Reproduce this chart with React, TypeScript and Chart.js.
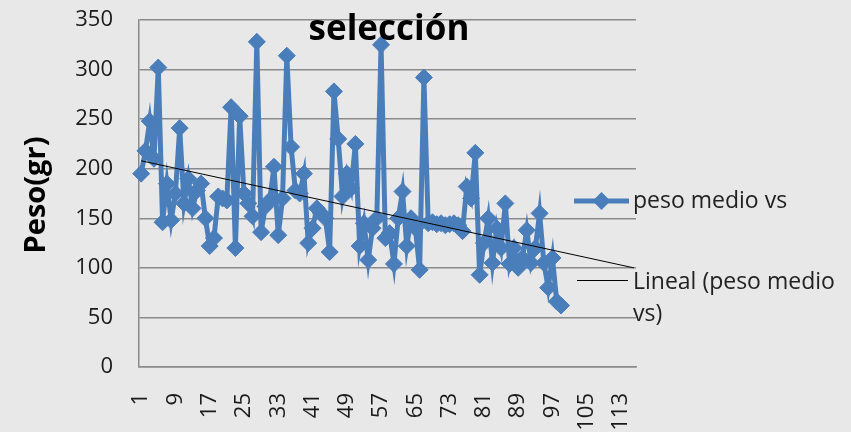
import React, { useEffect, useRef } from 'react';
import { Chart, registerables } from 'chart.js';

Chart.register(...registerables);

// ---- data ----
const categoryCount = 116;
const categories: string[] = Array.from({ length: categoryCount }, (_, i) => String(i + 1));
const tickLabels = ['1', '9', '17', '25', '33', '41', '49', '57', '65', '73', '81', '89', '97', '105', '113'];
const yTicks = [0, 50, 100, 150, 200, 250, 300, 350];

const pesoMedio = [
  195, 218, 248, 210, 302, 146, 185, 148, 175, 241,
  165, 190, 160, 178, 185, 150, 122, 130, 172, 170,
  168, 262, 120, 253, 175, 165, 152, 328, 136, 162,
  168, 202, 133, 170, 314, 222, 178, 175, 195, 125,
  140, 160, 155, 150, 116, 278, 230, 172, 195, 180,
  225, 122, 145, 108, 140, 150, 325, 130, 135, 104,
  150, 177, 122, 150, 140, 98, 292, 145, 146, 144,
  145, 143, 144, 145, 143, 137, 182, 170, 216, 93,
  125, 150, 105, 140, 120, 165, 104, 120, 100, 110,
  138, 105, 120, 155, 105, 80, 110, 66, 62,
];

const trendStart = 208;
const trendEnd = 100;

const titleText = 'selección';
const yTitleText = 'Peso(gr)';
const seriesName = 'peso medio vs';
const trendNameLines = ['Lineal (peso medio', 'vs)'];

const BLUE = '#4a7ebb';
const GRID = '#8a8a8a';
const BG = '#e8e8e8';
const FONT = '"Open Sans", "Liberation Sans", sans-serif';

export default function App() {
  const ref = useRef<HTMLCanvasElement | null>(null);

  useEffect(() => {
    document.body.style.margin = '0';
    let chart: Chart | null = null;
    let cancelled = false;

    const trendData: (number | null)[] = categories.map(() => null);
    trendData[0] = trendStart;
    trendData[categoryCount - 1] = trendEnd;

    const decor = {
      id: 'decor',
      beforeDraw(c: any) {
        const ctx = c.ctx;
        ctx.save();
        ctx.fillStyle = BG;
        ctx.fillRect(0, 0, c.width, c.height);
        ctx.restore();
      },
      afterDraw(c: any) {
        const ctx = c.ctx;
        ctx.save();
        // title
        ctx.fillStyle = '#000';
        ctx.font = `bold 35px ${FONT}`;
        ctx.textAlign = 'center';
        ctx.textBaseline = 'alphabetic';
        ctx.fillText(titleText, 389, 40);
        // y title
        ctx.save();
        ctx.translate(37, 195);
        ctx.rotate(-Math.PI / 2);
        ctx.font = `bold 29px ${FONT}`;
        ctx.textAlign = 'center';
        ctx.textBaseline = 'middle';
        ctx.fillText(yTitleText, 0, 0);
        ctx.restore();
        // legend item 1
        ctx.strokeStyle = BLUE;
        ctx.lineWidth = 5;
        ctx.beginPath();
        ctx.moveTo(574, 201);
        ctx.lineTo(629, 201);
        ctx.stroke();
        ctx.fillStyle = BLUE;
        ctx.beginPath();
        ctx.moveTo(601.5 - 9, 201);
        ctx.lineTo(601.5, 192);
        ctx.lineTo(601.5 + 9, 201);
        ctx.lineTo(601.5, 210);
        ctx.closePath();
        ctx.fill();
        ctx.fillStyle = '#222';
        ctx.font = `23px ${FONT}`;
        ctx.textAlign = 'left';
        ctx.textBaseline = 'alphabetic';
        ctx.fillText(seriesName, 633, 208);
        // legend item 2
        ctx.strokeStyle = '#000';
        ctx.lineWidth = 1;
        ctx.beginPath();
        ctx.moveTo(577, 280.5);
        ctx.lineTo(628, 280.5);
        ctx.stroke();
        ctx.fillText(trendNameLines[0], 633, 289);
        ctx.fillText(trendNameLines[1], 633, 321);
        ctx.restore();
      },
    };

    const build = () => {
      if (cancelled || !ref.current) return;
      chart = new Chart(ref.current, {
        type: 'line',
        data: {
          labels: categories,
          datasets: [
            {
              label: 'Lineal (peso medio vs)',
              data: trendData,
              borderColor: '#000',
              borderWidth: 1,
              pointRadius: 0,
              spanGaps: true,
              fill: false,
              order: 0,
            },
            {
              label: seriesName,
              data: pesoMedio,
              borderColor: BLUE,
              backgroundColor: BLUE,
              borderWidth: 5,
              pointStyle: 'rectRot',
              pointRadius: 8.5,
              pointBorderWidth: 1,
              pointBackgroundColor: BLUE,
              pointBorderColor: BLUE,
              tension: 0,
              fill: false,
              order: 1,
            },
          ],
        },
        options: {
          animation: false,
          responsive: false,
          maintainAspectRatio: false,
          layout: { padding: { top: 20, right: 215, left: 0, bottom: 0 } },
          plugins: {
            legend: { display: false },
            title: { display: false },
            tooltip: { enabled: false },
          },
          scales: {
            x: {
              type: 'category',
              offset: true,
              grid: { display: false, drawTicks: false },
              border: { display: true, color: GRID, width: 1.5 },
              ticks: {
                autoSkip: false,
                minRotation: 90,
                maxRotation: 90,
                padding: 26,
                color: '#1a1a1a',
                font: { family: FONT, size: 22 },
                callback: (_v: any, i: number) => (tickLabels.includes(categories[i]) ? categories[i] : ''),
              },
              afterFit: (s: any) => {
                s.height = 65;
                s.paddingLeft = 0;
                s.paddingRight = 0;
              },
            },
            y: {
              min: 0,
              max: 350,
              afterBuildTicks: (s: any) => {
                s.ticks = yTicks.map((v) => ({ value: v }));
              },
              grid: { color: GRID, lineWidth: 1.5, drawTicks: false },
              border: { display: true, color: GRID, width: 1.5 },
              ticks: {
                padding: 26,
                color: '#1a1a1a',
                font: { family: FONT, size: 22 },
              },
              afterFit: (s: any) => {
                s.width = 139;
                s.paddingTop = 0;
                s.paddingBottom = 0;
              },
            },
          },
        },
        plugins: [decor],
      });
    };

    const fonts: any = (document as any).fonts;
    if (fonts && fonts.load) {
      Promise.all([
        fonts.load(`22px "Open Sans"`),
        fonts.load(`bold 35px "Open Sans"`),
      ]).then(build, build);
    } else {
      build();
    }

    return () => {
      cancelled = true;
      if (chart) chart.destroy();
    };
  }, []);

  return (
    <div style={{ position: 'absolute', left: 0, top: 0, width: 851, height: 432 }}>
      <canvas ref={ref} width={851} height={432} style={{ width: 851, height: 432, display: 'block' }} />
    </div>
  );
}
